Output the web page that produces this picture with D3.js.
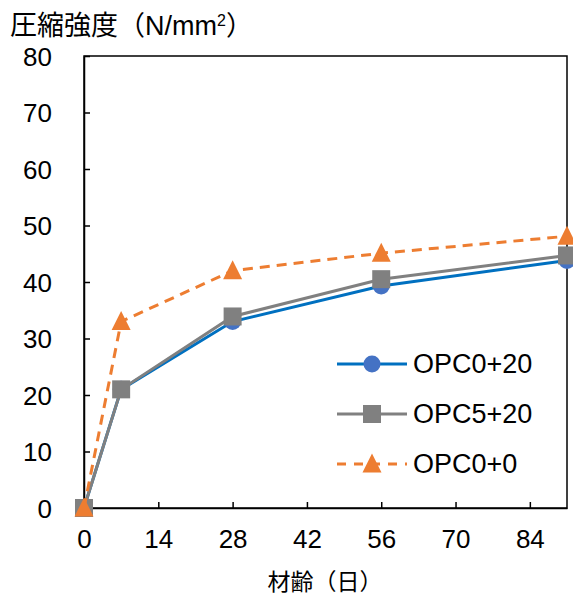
<!DOCTYPE html>
<html>
<head>
<meta charset="utf-8">
<script src="https://cdn.jsdelivr.net/npm/d3@7"></script>
<style>
  body { margin: 0; background: #fff; }
  text { font-family: "Liberation Sans", Arial, "Noto Sans CJK JP", sans-serif; }
</style>
</head>
<body>
<svg id="chart" width="573" height="608"></svg>
<script>
// data
var days = [0, 7, 28, 56, 91];
var opc0_20 = [0, 21, 33, 39.3, 43.8];
var opc5_20 = [0, 21, 33.9, 40.5, 44.7];
var opc0_0 = [0, 33, 42, 45.1, 48.1];
var xTicks = [0, 14, 28, 42, 56, 70, 84];
var yTicks = [0, 10, 20, 30, 40, 50, 60, 70, 80];

var series = [
    { name: "OPC0+20", values: opc0_20, line: "#0070C0", fill: "#4472C4", shape: "circle", dash: null },
    { name: "OPC5+20", values: opc5_20, line: "#808080", fill: "#808080", shape: "square", dash: null },
    { name: "OPC0+0", values: opc0_0, line: "#ED7D31", fill: "#ED7D31", shape: "triangle", dash: "10,7" }
];

var plot_left = 84, plot_right = 567, plot_top = 56, plot_bottom = 508;
var tick_font = "26px";

var svg = d3.select("#chart");

var x = d3.scaleLinear().domain([0, 91]).range([plot_left, plot_right]);
var y = d3.scaleLinear().domain([0, 80]).range([plot_bottom, plot_top]);

// frame
svg.append("rect").attr("x", plot_left).attr("y", plot_top)
    .attr("width", plot_right - plot_left).attr("height", plot_bottom - plot_top)
    .attr("fill", "none").attr("stroke", "#000").attr("stroke-width", 1.5);

//axes, ticks inside
var xAxis = svg.append("g").attr("transform", `translate(0,${plot_bottom})`)
    .call(d3.axisBottom(x).tickValues(xTicks).tickSizeInner(-6).tickSizeOuter(0).tickPadding(22));
var yAxis = svg.append("g").attr("transform", `translate(${plot_left},0)`)
    .call(d3.axisLeft(y).tickValues(yTicks).tickSizeInner(-6).tickSizeOuter(0).tickPadding(32));

[xAxis, yAxis].forEach(function (g) {
    g.select(".domain").attr("stroke", "#000").attr("stroke-width", 1.5);
    g.selectAll(".tick line").attr("stroke", "#000").attr("stroke-width", 1.5);
    g.selectAll(".tick text").attr("fill", "#000").style("font-size", tick_font)
        .style("font-family", "'Liberation Sans', Arial, sans-serif");
});
xAxis.selectAll(".tick text").attr("dy", "0.71em");
yAxis.selectAll(".tick text").attr("dy", "0.35em");

// titles
svg.append("text").attr("x", 10).attr("y", 35)
    .style("font-size", "27px").attr("fill", "#000")
    .html('圧縮強度（N/mm<tspan dy="-9" style="font-size:16px">2</tspan><tspan dy="9">）</tspan>');

svg.append("text").attr("x", 325).attr("y", 590).attr("text-anchor", "middle")
    .style("font-size", "23px").attr("fill", "#000").text("材齢（日）");

var line = d3.line().x(d => x(d[0])).y(d => y(d[1]));

function drawMarker(g, shape, cx, cy, fill) {
    if (shape == "circle") {
        g.append("circle").attr("cx", cx).attr("cy", cy).attr("r", 8.5).attr("fill", fill);
    } else if (shape == "square") {
        g.append("rect").attr("x", cx - 9).attr("y", cy - 9).attr("width", 18).attr("height", 18).attr("fill", fill);
    } else {
        var s = 19;
        var pts = `${cx},${cy - s * 0.55} ${cx + s / 2},${cy + s * 0.45} ${cx - s / 2},${cy + s * 0.45}`;
        g.append("polygon").attr("points", pts).attr("fill", fill);
    }
}

series.forEach(function (s) {
    var pts = days.map((d, i) => [d, s.values[i]]);
    var g = svg.append("g");
    g.append("path").attr("d", line(pts)).attr("fill", "none")
        .attr("stroke", s.line).attr("stroke-width", 3)
        .attr("stroke-dasharray", s.dash);
    pts.forEach(p => drawMarker(g, s.shape, x(p[0]), y(p[1]), s.fill));
});

// legend
var legendY = [364, 414, 464];
series.forEach(function (s, i) {
    var g = svg.append("g");
    g.append("line").attr("x1", 337).attr("x2", 407).attr("y1", legendY[i]).attr("y2", legendY[i])
        .attr("stroke", s.line).attr("stroke-width", 3).attr("stroke-dasharray", s.dash ? "9,8" : null);
    drawMarker(g, s.shape, 372, legendY[i], s.fill);
    g.append("text").attr("x", 413).attr("y", legendY[i]).attr("dy", "0.35em")
        .style("font-size", "27px").attr("fill", "#000").text(s.name);
});
</script>
</body>
</html>
